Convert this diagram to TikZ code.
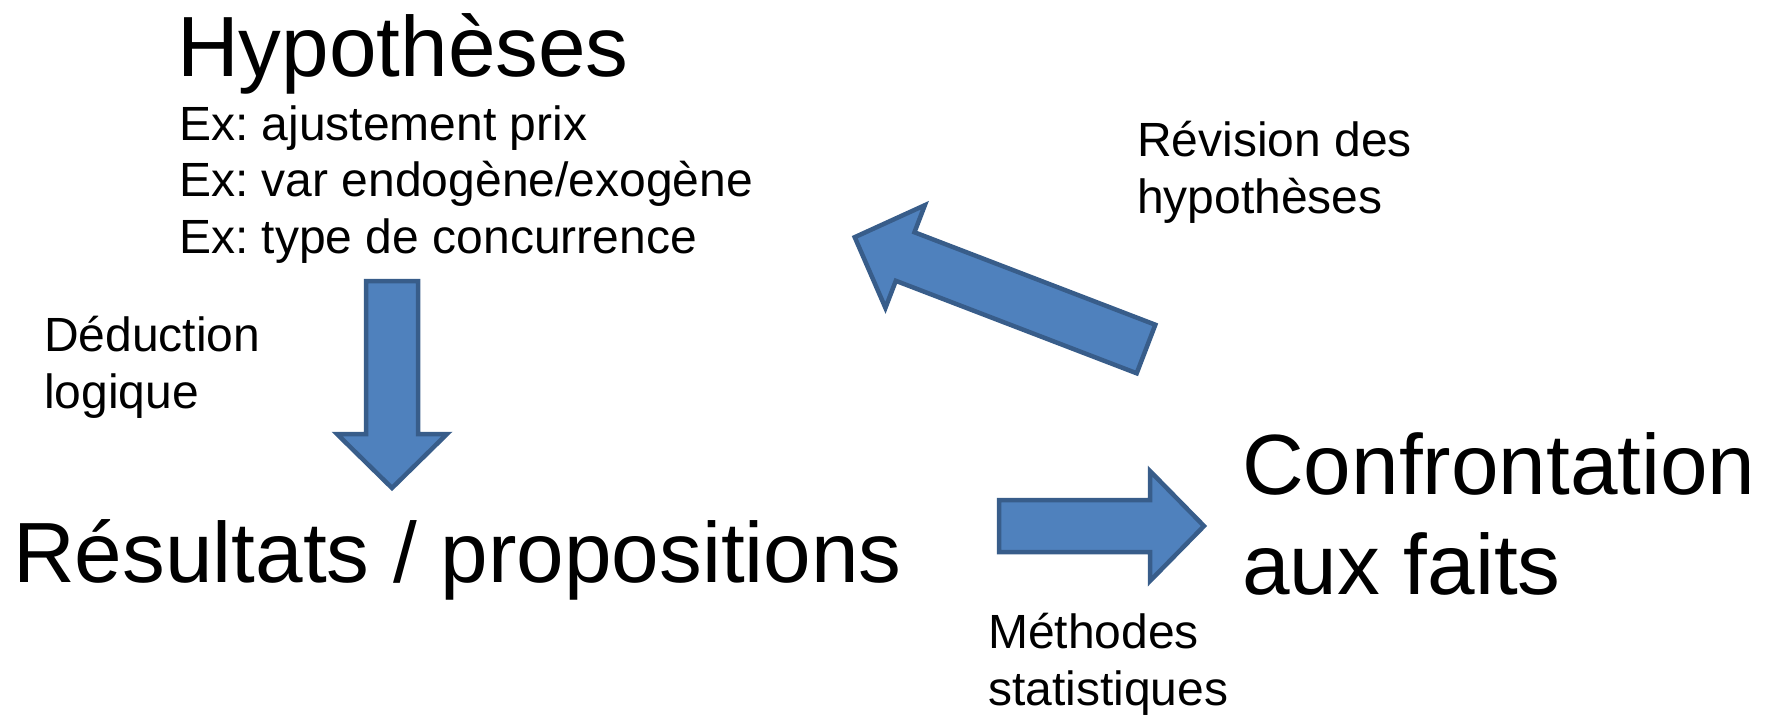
\documentclass[tikz,border=0pt]{standalone}
\usepackage{fontspec}
\setmainfont{Liberation Sans}
\usetikzlibrary{positioning}

\definecolor{blocfill}{HTML}{4F81BD}
\definecolor{blocdraw}{HTML}{385D8A}

\tikzset{
  grand/.style={anchor=base west,inner sep=0pt,align=left,
    font=\fontsize{85.5}{100}\selectfont},
  petit/.style={anchor=base west,inner sep=0pt,align=left,
    font=\fontsize{48}{56.5}\selectfont},
  pics/bloc/.style={code={
    \draw[fill=blocfill,draw=blocdraw,line width=4.5pt,line join=miter]
      (0,-26) -- ({#1-54},-26) -- ({#1-54},-55) -- (#1,0)
      -- ({#1-54},55) -- ({#1-54},26) -- (0,26) -- cycle;
  }}
}

\frenchspacing
\begin{document}
\begin{tikzpicture}[x=1pt,y=-1pt]
        \useasboundingbox (0,0) rectangle (1769,718);

        % textes (base = derniere ligne)
        \node[grand] (hyp) at (177,76) {Hypothèses};
        \node[petit] (ex) at (179,253)
          {Ex: ajustement prix\\Ex: var endogène/exogène\\Ex: type de concurrence};
        \node[petit] (deduc) at (44,408) {Déduction\\logique};
        \node[grand] (result) at (13,582) {Résultats / propositions};
        \node[grand] (confront) at (1242,594) {Confrontation\\aux faits};
        \node[petit] (revis) at (1137,213) {Révision des\\hypothèses};
        \node[petit] (methodes) at (988,705) {Méthodes\\statistiques};

        % fleches
        \pic[rotate=-90] at (392,281) {bloc=207};
        \pic at (999,526) {bloc=205};
        \pic[rotate=159] at (1146,349) {bloc=312};
\end{tikzpicture}
\end{document}
